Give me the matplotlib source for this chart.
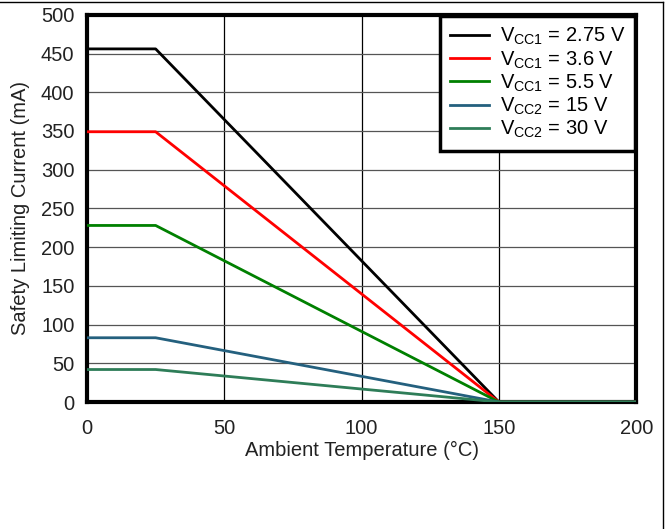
import matplotlib.pyplot as plt
from matplotlib.lines import Line2D

plt.rcParams['font.family'] = ['Liberation Sans', 'DejaVu Sans']
plt.rcParams['mathtext.default'] = 'regular'

# data: flat until 25 C, then linear down to 0 at 150 C
temps = [0, 25, 150, 200]
i_275 = [456, 456, 0, 0]
i_36 = [349, 349, 0, 0]
i_55 = [228, 228, 0, 0]
i_15 = [83, 83, 0, 0]
i_30 = [42, 42, 0, 0]

labels = [r'V$_{CC1}$ = 2.75 V', r'V$_{CC1}$ = 3.6 V', r'V$_{CC1}$ = 5.5 V',
          r'V$_{CC2}$ = 15 V', r'V$_{CC2}$ = 30 V']
colors = ['#000000', '#ff0000', '#008000', '#24607e', '#2e7d58']
series = [i_275, i_36, i_55, i_15, i_30]

fig = plt.figure(figsize=(6.69, 5.29), dpi=100)
ax = fig.add_axes([0.130, 0.240, 0.821, 0.732])

for y, c, lab in zip(series, colors, labels):
    ax.plot(temps, y, color=c, lw=2, label=lab, zorder=3)

ax.set_xlim(0, 200)
ax.set_ylim(0, 500)
ax.set_xticks([0, 50, 100, 150, 200])
ax.set_yticks(range(0, 501, 50))

# grid: vertical black, horizontal gray
for xv in [50, 100, 150]:
    ax.axvline(xv, color='black', lw=0.9, zorder=1)
for yv in range(50, 500, 50):
    ax.axhline(yv, color='#555555', lw=0.9, zorder=1)

for s in ax.spines.values():
    s.set_linewidth(3)
ax.tick_params(length=0, labelsize=14.5, colors='#222222')
ax.tick_params(axis='x', pad=12)
ax.tick_params(axis='y', pad=9)

ax.set_xlabel('Ambient Temperature (°C)', fontsize=14.5, labelpad=2, color='#222222')
ax.set_ylabel('Safety Limiting Current (mA)', fontsize=14.5, labelpad=8, color='#222222')

leg = ax.legend(loc='upper right', fontsize=14.5, fancybox=False, framealpha=1,
                edgecolor='black', handlelength=1.9, borderaxespad=0.05,
                labelspacing=0.1, borderpad=0.5, handletextpad=0.55)
leg.get_frame().set_linewidth(2.5)

# outer frame of the picture (top and right edges)
fig.add_artist(Line2D([0, 0.991], [0.996, 0.996], color='black', lw=1, transform=fig.transFigure))
fig.add_artist(Line2D([0.991, 0.991], [0, 0.996], color='black', lw=1, transform=fig.transFigure))

fig.savefig('out.png', dpi=100)
